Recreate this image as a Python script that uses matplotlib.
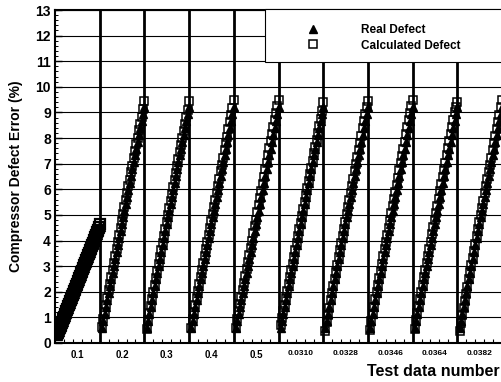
import matplotlib
matplotlib.use("Agg")
import matplotlib.pyplot as plt
from matplotlib.patches import Rectangle
from matplotlib.lines import Line2D
from matplotlib.ticker import MultipleLocator

plt.rcParams['font.family'] = ['Liberation Sans', 'DejaVu Sans']

# tick labels of the ten test groups
group_labels = ['0.1', '0.2', '0.3', '0.4', '0.5',
                '0.0310', '0.0328', '0.0346', '0.0364', '0.0382']

# first group (dense ramp)
g0_real = [0.30, 0.38, 0.48, 0.58, 0.67, 0.77, 0.87, 0.97, 1.07, 1.17, 1.27,
           1.37, 1.47, 1.57, 1.67, 1.77, 1.87, 1.97, 2.07, 2.17, 2.27, 2.37,
           2.47, 2.57, 2.67, 2.77, 2.87, 2.97, 3.07, 3.17, 3.27, 3.37, 3.47,
           3.57, 3.67, 3.77, 3.87, 3.97, 4.07, 4.17, 4.27, 4.37, 4.47, 4.57]
g0_calc = [0.36, 0.44, 0.53, 0.64, 0.72, 0.83, 0.92, 1.03, 1.12, 1.23, 1.32,
           1.43, 1.52, 1.63, 1.72, 1.83, 1.92, 2.03, 2.12, 2.23, 2.32, 2.43,
           2.52, 2.63, 2.72, 2.83, 2.92, 3.03, 3.12, 3.23, 3.32, 3.43, 3.52,
           3.63, 3.72, 3.83, 3.92, 4.03, 4.12, 4.23, 4.32, 4.43, 4.52, 4.64]

# real defect ramp, same for groups 2..10
real_ramp = [0.60, 0.87, 1.14, 1.41, 1.67, 1.94, 2.21, 2.48, 2.75, 3.02, 3.29,
             3.56, 3.83, 4.09, 4.36, 4.63, 4.90, 5.17, 5.44, 5.71, 5.98, 6.24,
             6.51, 6.78, 7.05, 7.32, 7.59, 7.86, 8.13, 8.39, 8.66, 8.93, 9.20]

calc_groups = [
    [0.62, 0.95, 1.22, 1.50, 1.76, 2.05, 2.30, 2.58, 2.86, 3.12, 3.40, 3.66,
     3.95, 4.20, 4.48, 4.75, 5.02, 5.30, 5.58, 5.84, 6.12, 6.38, 6.66, 6.92,
     7.22, 7.48, 7.76, 8.02, 8.30, 8.56, 8.84, 9.12, 9.45],
    [0.55, 0.90, 1.18, 1.45, 1.72, 2.00, 2.28, 2.55, 2.82, 3.10, 3.36, 3.64,
     3.92, 4.18, 4.46, 4.72, 5.00, 5.28, 5.55, 5.82, 6.10, 6.36, 6.64, 6.92,
     7.18, 7.46, 7.74, 8.00, 8.28, 8.56, 8.84, 9.10, 9.45],
    [0.58, 0.92, 1.20, 1.48, 1.75, 2.02, 2.30, 2.56, 2.84, 3.12, 3.38, 3.66,
     3.94, 4.22, 4.48, 4.76, 5.04, 5.32, 5.60, 5.86, 6.14, 6.42, 6.70, 6.96,
     7.24, 7.52, 7.80, 8.06, 8.34, 8.62, 8.90, 9.16, 9.48],
    [0.60, 0.94, 1.24, 1.52, 1.80, 2.06, 2.34, 2.62, 2.90, 3.18, 3.44, 3.72,
     4.00, 4.28, 4.56, 4.82, 5.10, 5.38, 5.66, 5.94, 6.22, 6.50, 6.78, 7.04,
     7.32, 7.60, 7.88, 8.16, 8.42, 8.70, 8.98, 9.24, 9.50],
    [0.70, 0.98, 1.24, 1.50, 1.77, 2.04, 2.30, 2.57, 2.84, 3.10, 3.37, 3.64,
     3.90, 4.17, 4.44, 4.70, 4.97, 5.24, 5.51, 5.78, 6.05, 6.31, 6.58, 6.85,
     7.12, 7.40, 7.66, 7.94, 8.20, 8.48, 8.76, 9.04, 9.40],
    [0.48, 0.82, 1.10, 1.38, 1.66, 1.94, 2.22, 2.50, 2.78, 3.06, 3.34, 3.62,
     3.90, 4.18, 4.46, 4.74, 5.02, 5.30, 5.58, 5.86, 6.14, 6.42, 6.70, 6.98,
     7.26, 7.54, 7.82, 8.10, 8.38, 8.66, 8.94, 9.20, 9.45],
    [0.52, 0.86, 1.14, 1.42, 1.70, 1.98, 2.26, 2.54, 2.82, 3.10, 3.38, 3.66,
     3.94, 4.22, 4.50, 4.78, 5.06, 5.34, 5.62, 5.90, 6.18, 6.46, 6.74, 7.02,
     7.30, 7.58, 7.86, 8.14, 8.42, 8.70, 8.98, 9.24, 9.48],
    [0.55, 0.88, 1.16, 1.44, 1.72, 2.00, 2.28, 2.56, 2.84, 3.12, 3.40, 3.68,
     3.96, 4.24, 4.52, 4.80, 5.08, 5.36, 5.64, 5.92, 6.20, 6.48, 6.76, 7.04,
     7.32, 7.60, 7.88, 8.16, 8.44, 8.72, 9.00, 9.22, 9.40],
    [0.45, 0.80, 1.08, 1.36, 1.64, 1.92, 2.20, 2.48, 2.76, 3.04, 3.32, 3.60,
     3.88, 4.16, 4.44, 4.72, 5.00, 5.28, 5.56, 5.84, 6.12, 6.40, 6.68, 6.96,
     7.24, 7.52, 7.80, 8.08, 8.36, 8.64, 8.92, 9.20, 9.50],
]


def group_x(g, n):
    # test data index inside group g, spread across its slot
    return [g + 0.05 + 0.95 * i / (n - 1) for i in range(n)]


fig = plt.figure(figsize=(5.01, 3.82), dpi=100)
ax = fig.add_axes([55 / 501, 39 / 382, 447 / 501, 333 / 382])

tri_style = dict(linestyle='none', marker='^', markersize=5.5, color='black', zorder=3)
sq_style = dict(linestyle='none', marker='s', markersize=6.3, markerfacecolor='none',
                markeredgecolor='black', markeredgewidth=1.1, zorder=4)

# first group is a dense, almost solid band
ax.plot(group_x(0, len(g0_real)), g0_real, **dict(tri_style, markersize=7))
ax.plot(group_x(0, len(g0_calc)), g0_calc, **dict(sq_style, markersize=7, markeredgewidth=1.6))
for g, calc in enumerate(calc_groups, start=1):
    ax.plot(group_x(g, len(real_ramp)), real_ramp, **tri_style)
    ax.plot(group_x(g, len(calc)), calc, **sq_style)

# group separators and horizontal grid
for g in range(1, len(group_labels)):
    ax.axvline(g, color='black', linewidth=2.0, zorder=2)
for yv in range(1, 14):
    ax.axhline(yv, color='black', linewidth=0.8, zorder=1)

ax.set_xlim(0, 10)
ax.set_ylim(0, 13)
ax.set_xticks([g + 0.5 for g in range(len(group_labels))])
ax.set_xticklabels(group_labels)
ax.xaxis.set_minor_locator(MultipleLocator(0.2))
ax.yaxis.set_major_locator(MultipleLocator(1))
ax.yaxis.set_minor_locator(MultipleLocator(0.2))
ax.tick_params(axis='x', which='major', length=0, pad=5)
ax.tick_params(axis='x', which='minor', direction='in', length=3, width=0.8)
ax.tick_params(axis='y', which='major', direction='in', length=5, width=1, labelsize=10, pad=3)
ax.tick_params(axis='y', which='minor', direction='in', length=2.5, width=0.7)
for i, lab in enumerate(ax.get_xticklabels()):
    lab.set_fontweight('bold')
    lab.set_fontsize(7 if i < 5 else 6)
for lab in ax.get_yticklabels():
    lab.set_fontweight('bold')

for side in ['left', 'bottom', 'top']:
    ax.spines[side].set_linewidth(1.5)
ax.spines['right'].set_visible(False)

ax.set_ylabel('Compressor Defect Error (%)', fontsize=10, fontweight='bold', labelpad=9)
fig.text(500 / 501, 1 - 372 / 382, 'Test data number', fontsize=11.5, fontweight='bold',
         ha='right', va='center')

# legend box in upper right
ax.add_patch(Rectangle((0.47, 0.844), 0.56, 0.16, transform=ax.transAxes,
                       facecolor='white', edgecolor='black', linewidth=0.8,
                       zorder=5, clip_on=False))
handles = [Line2D([], [], **dict(tri_style, markersize=6)), Line2D([], [], **sq_style)]
leg = ax.legend(handles, ['Real Defect', 'Calculated Defect'], loc='upper left',
                bbox_to_anchor=(0.565, 0.958), frameon=False, borderpad=0,
                borderaxespad=0, handlelength=1.0, handletextpad=3.5,
                labelspacing=0.3, prop={'weight': 'bold', 'size': 8.5})
leg.set_zorder(6)

fig.savefig('out.png', dpi=100)
